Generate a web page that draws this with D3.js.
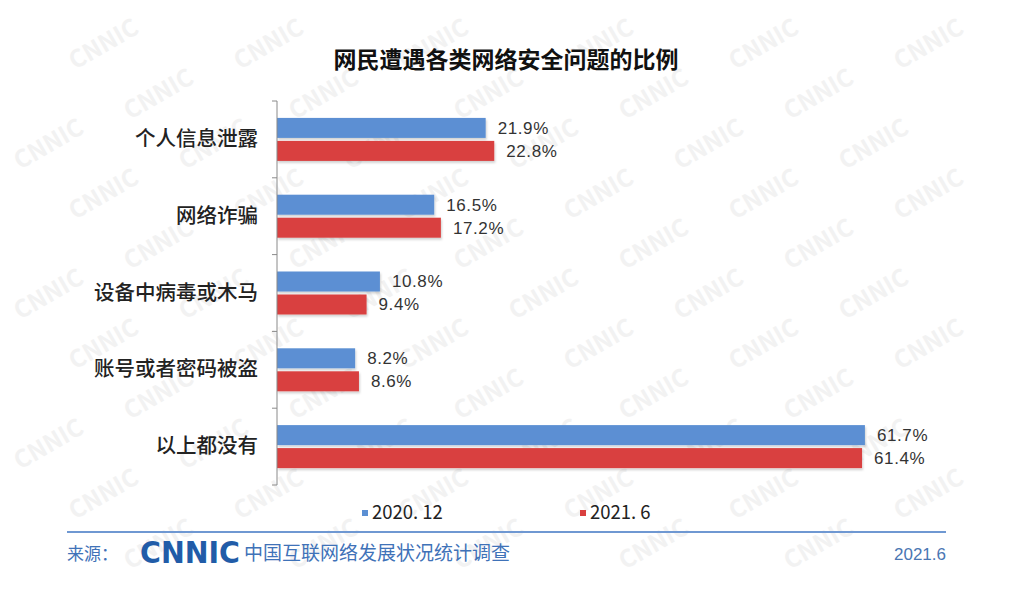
<!DOCTYPE html>
<html>
<head>
<meta charset="utf-8">
<script src="https://cdn.jsdelivr.net/npm/d3@7"></script>
<style>
  body { margin: 0; background: #fff; }
  text { font-family: "Noto Sans CJK SC", "Liberation Sans", sans-serif; }
</style>
</head>
<body>
<svg id="chart" width="1024" height="596"></svg>
<script>
// data
var categories = ["个人信息泄露", "网络诈骗", "设备中病毒或木马", "账号或者密码被盗", "以上都没有"];
var seriesNames = ["2020. 12", "2021. 6"];
var values2020 = [21.9, 16.5, 10.8, 8.2, 61.7];
var values2021 = [22.8, 17.2, 9.4, 8.6, 61.4];
var colors = ["#5b8fd3", "#d9403f"];

var svg = d3.select("#chart");

// faint CNNIC watermark pattern (kept inside the picture)
var wm = svg.append("g").attr("fill", "#f2f2f2").attr("font-weight", "bold")
  .attr("font-size", 24).style("font-family", "Liberation Sans, sans-serif");
for (var r = 0; r < 14; r++) {
  for (var c = -1; c < 7; c++) {
    var wx = c * 165 + (r % 3) * 55 + 20;
    var wy = r * 50 + 20;
    if (wx < 6 || wx > 935 || wy < 52 || wy > 588) continue;
    wm.append("text")
      .attr("transform", "translate(" + wx + "," + wy + ") rotate(-30)")
      .text("CNNIC");
  }
}

var plotLeft = 277, plotTop = 101, plotBottom = 485;

var x = d3.scaleLinear().domain([0, 70]).range([plotLeft, 944]);
var y = d3.scaleBand().domain(categories).range([plotTop, plotBottom]);
var ySub = d3.scaleBand().domain([0, 1]).range([0, y.bandwidth()])
  .paddingInner(0.13).paddingOuter(0.735);

// title
svg.append("text")
  .attr("x", 506).attr("y", 68)
  .attr("text-anchor", "middle")
  .attr("font-size", 23).attr("font-weight", "bold")
  .attr("fill", "#111")
  .text("网民遭遇各类网络安全问题的比例");

// soft shadow for bars
var defs = svg.append("defs");
var f = defs.append("filter").attr("id", "shadow")
  .attr("x", "-5%").attr("y", "-20%").attr("width", "110%").attr("height", "160%");
f.append("feDropShadow").attr("dx", 1).attr("dy", 2).attr("stdDeviation", 1.2)
  .attr("flood-color", "#000").attr("flood-opacity", 0.18);

var rows = categories.map(function(d, i) {
  return { cat: d, vals: [values2020[i], values2021[i]] };
});

var g = svg.append("g");
var groups = g.selectAll("g.cat")
  .data(rows)
  .enter().append("g")
  .attr("class", "cat")
  .attr("transform", function(d) { return "translate(0," + y(d.cat) + ")"; });

groups.selectAll("rect")
  .data(function(d) { return d.vals; })
  .enter().append("rect")
  .attr("x", x(0))
  .attr("y", function(d, i) { return ySub(i); })
  .attr("width", function(d) { return x(d) - x(0); })
  .attr("height", ySub.bandwidth())
  .attr("fill", function(d, i) { return colors[i]; })
  .attr("filter", "url(#shadow)");

groups.selectAll("text.val")
  .data(function(d) { return d.vals; })
  .enter().append("text")
  .attr("class", "val")
  .attr("x", function(d) { return x(d) + 12; })
  .attr("y", function(d, i) { return ySub(i) + ySub.bandwidth() / 2; })
  .attr("dy", "0.35em")
  .attr("font-size", 17)
  .attr("letter-spacing", 0.6)
  .attr("fill", "#333")
  .style("font-family", "Liberation Sans, sans-serif")
  .text(function(d) { return d.toFixed(1) + "%"; });

// category axis
var axis = svg.append("g").attr("transform", "translate(" + plotLeft + ",0)");
axis.call(d3.axisLeft(y).tickSize(0).tickPadding(19));
axis.select(".domain").remove();
axis.selectAll(".tick text")
  .attr("font-size", 20.5)
  .attr("font-weight", 500)
  .attr("fill", "#222")
  .style("font-family", "Noto Sans CJK SC, sans-serif");

var bounds = categories.map(function(d) { return y(d); }).concat([plotBottom]);
axis.append("line")
  .attr("y1", plotTop).attr("y2", plotBottom)
  .attr("stroke", "#8a8a8a");
axis.selectAll("line.tk")
  .data(bounds)
  .enter().append("line")
  .attr("class", "tk")
  .attr("x1", -5).attr("x2", 0)
  .attr("y1", function(d) { return d; }).attr("y2", function(d) { return d; })
  .attr("stroke", "#8a8a8a");

// legend
var legendX = [362, 580];
var legend = svg.selectAll("g.leg")
  .data(seriesNames)
  .enter().append("g")
  .attr("class", "leg")
  .attr("transform", function(d, i) { return "translate(" + legendX[i] + ",513)"; });
legend.append("rect")
  .attr("x", 0).attr("y", -3).attr("width", 6).attr("height", 6)
  .attr("fill", function(d, i) { return colors[i]; });
legend.append("text")
  .attr("x", 10).attr("dy", "0.35em")
  .attr("font-size", 18.5).attr("fill", "#222")
  .text(function(d) { return d; });

// footer
svg.append("line")
  .attr("x1", 67).attr("x2", 946).attr("y1", 532).attr("y2", 532)
  .attr("stroke", "#6f98d2").attr("stroke-width", 2);

svg.append("text")
  .attr("x", 67).attr("y", 560)
  .attr("font-size", 17).attr("fill", "#3f72b8")
  .text("来源：");

svg.append("text")
  .attr("x", 140).attr("y", 563)
  .attr("font-size", 30).attr("font-weight", "bold")
  .attr("fill", "#215ca8")
  .attr("textLength", 100).attr("lengthAdjust", "spacingAndGlyphs")
  .style("font-family", "DejaVu Sans, sans-serif")
  .text("CNNIC");

svg.append("text")
  .attr("x", 244).attr("y", 560)
  .attr("font-size", 19).attr("fill", "#3f72b8")
  .text("中国互联网络发展状况统计调查");

svg.append("text")
  .attr("x", 946).attr("y", 560)
  .attr("text-anchor", "end")
  .attr("font-size", 17).attr("fill", "#4a76b3")
  .style("font-family", "Liberation Sans, sans-serif")
  .text("2021.6");
</script>
</body>
</html>
